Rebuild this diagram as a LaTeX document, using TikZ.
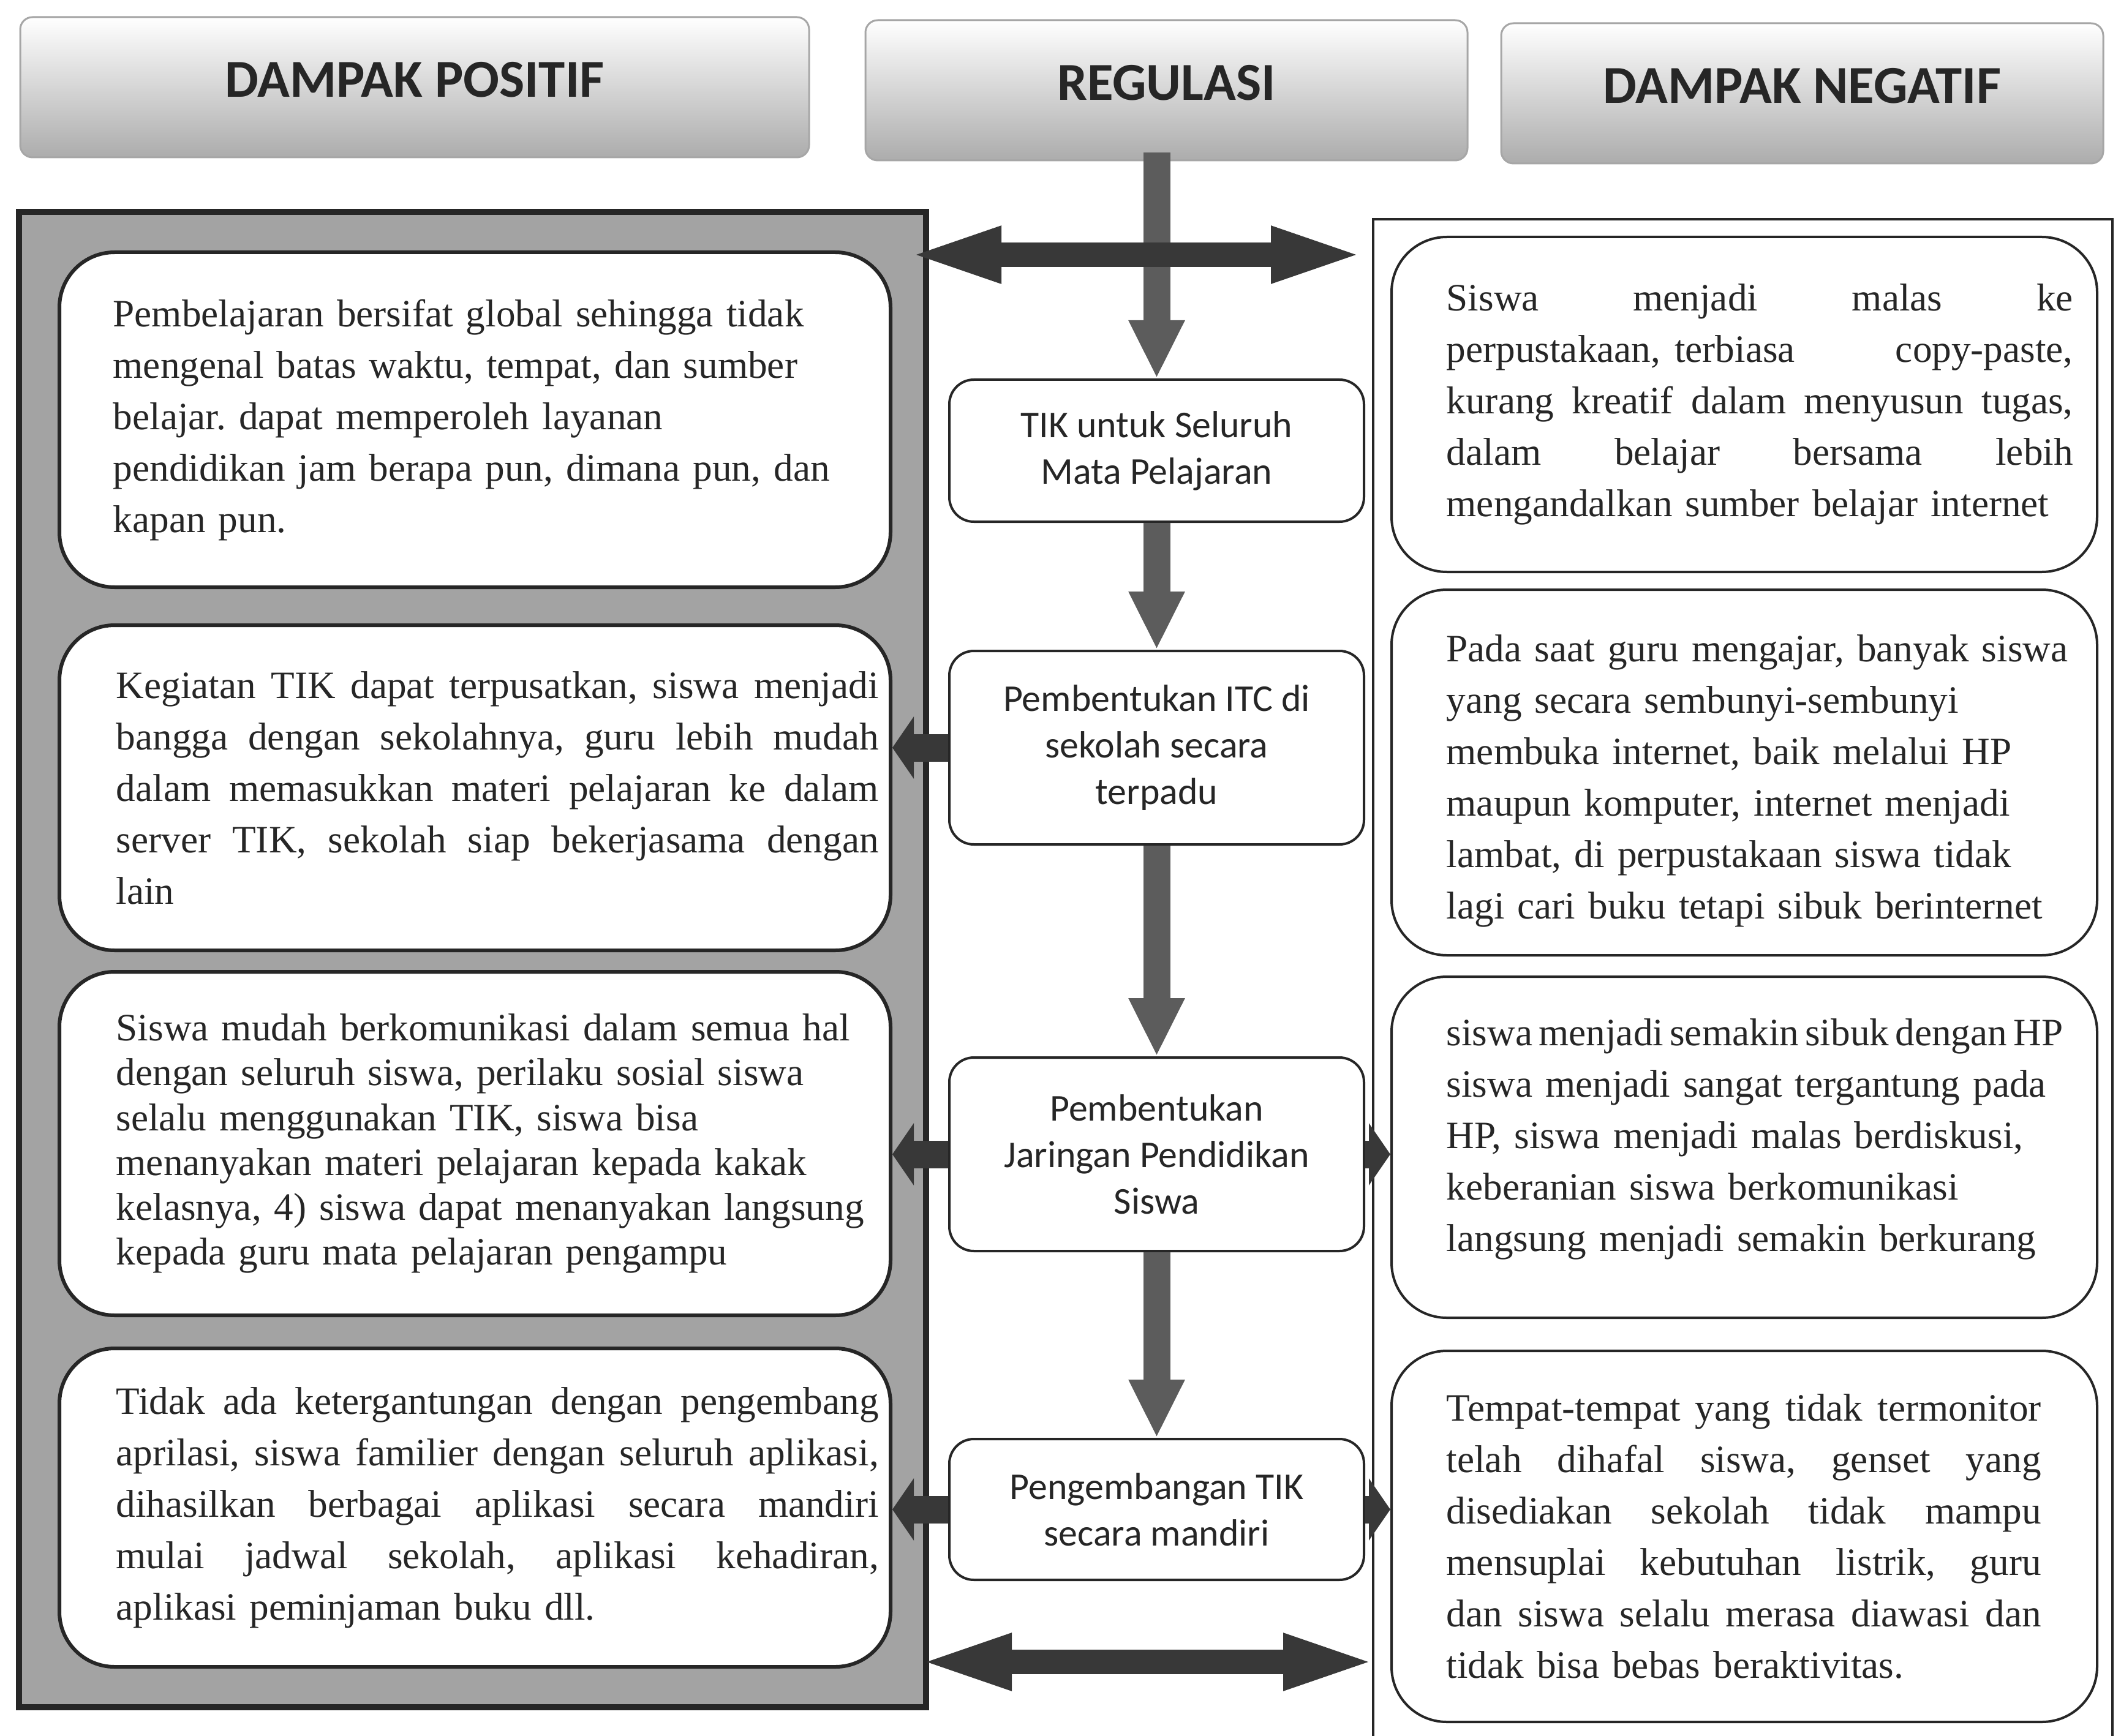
\documentclass[tikz,border=0pt]{standalone}
\usepackage{fontspec}
\setmainfont{Liberation Serif}
\newfontfamily\calibri{Carlito}
\usepackage{tikz}
\usetikzlibrary{arrows.meta, positioning, calc}

\definecolor{panelgray}{gray}{0.64}
\definecolor{flowgray}{gray}{0.36}
\definecolor{arrowdark}{gray}{0.22}
\definecolor{inkgray}{gray}{0.15}

% baris rata kiri-kanan
\newcommand{\jline}[1]{\hbox to \hsize{\frenchspacing\spaceskip=0.25em plus 1fil\relax #1}}

\tikzset{
  header/.style={rectangle, rounded corners=0.2cm, draw=gray!70, line width=0.03cm, top color=white, bottom color=gray!65, minimum width=9.83cm, minimum height=2.29cm, text depth=0.25cm, font=\calibri\fontsize{24.8}{28}\selectfont\bfseries, text=inkgray},
  posbox/.style={rectangle, rounded corners=0.9cm, draw=black!85, line width=0.06cm, fill=white, minimum width=13.57cm},
  negbox/.style={rectangle, rounded corners=0.9cm, draw=black!85, line width=0.04cm, fill=white, minimum width=11.52cm},
  regbox/.style={rectangle, rounded corners=0.4cm, draw=black!85, line width=0.04cm, fill=white, minimum width=6.77cm, font=\calibri\fontsize{17.6}{21.6}\selectfont, text=inkgray, align=center},
  bodytext/.style={anchor=west, align=left, inner sep=0pt, text=inkgray, font=\fontsize{18}{23.9}\selectfont\frenchspacing},
  flowarrow/.style={draw=flowgray, line width=0.44cm, -{Triangle[length=0.95cm, width=0.85cm]}},
  sidearrow/.style={draw=arrowdark, line width=0.45cm, -{Triangle[length=0.35cm, width=1.0cm]}},
  dblarrow/.style={draw=arrowdark, line width=0.4cm, {Triangle[length=1.6cm, width=0.8cm]}-{Triangle[length=1.6cm, width=0.8cm]}}
}

\begin{document}
\begin{tikzpicture}
  \useasboundingbox (0,0) rectangle (34.63,-28.35);

  % Judul kolom
  \node[header, minimum width=12.88cm] (posHead) at (6.77,-1.425) {DAMPAK POSITIF};
  \node[header] (regHead) at (19.045,-1.475) {REGULASI};
  \node[header] (negHead) at (29.425,-1.525) {DAMPAK NEGATIF};

  % Panel kiri dan kanan
  \draw[fill=panelgray, draw=black!85, line width=0.1cm] (0.31,-3.46) rectangle (15.12,-27.88);
  \draw[draw=black!85, line width=0.04cm] (22.42,-28.35) |- (34.49,-3.58) -- (34.49,-28.35);

  % Dampak positif
  \node[posbox, minimum height=5.47cm] (pos1) at (7.755,-6.855) {};
  \node[bodytext, text width=11.8cm] (pos1txt) at (1.84,-6.855) {Pembelajaran bersifat global sehingga tidak\\
    mengenal batas waktu, tempat, dan sumber\\
    belajar. dapat memperoleh layanan\\
    pendidikan jam berapa pun, dimana pun, dan\\
    kapan pun.};

  \node[posbox, minimum height=5.31cm] (pos2) at (7.755,-12.865) {};
  \node[bodytext, text width=12.45cm] (pos2txt) at (1.89,-12.865) {\jline{Kegiatan TIK dapat terpusatkan, siswa menjadi}
    \jline{bangga dengan sekolahnya, guru lebih mudah}
    \jline{dalam memasukkan materi pelajaran ke dalam}
    \jline{server TIK, sekolah siap bekerjasama dengan}
    lain};

  \node[posbox, minimum height=5.61cm] (pos3) at (7.755,-18.675) {};
  \node[bodytext, text width=12.45cm, font=\fontsize{18}{20.8}\selectfont\frenchspacing] (pos3txt) at (1.89,-18.675) {Siswa mudah berkomunikasi dalam semua hal\\
    dengan seluruh siswa, perilaku sosial siswa\\
    selalu menggunakan TIK, siswa bisa\\
    menanyakan materi pelajaran kepada kakak\\
    kelasnya, 4) siswa dapat menanyakan langsung\\
    kepada guru mata pelajaran pengampu};

  \node[posbox, minimum height=5.20cm] (pos4) at (7.755,-24.62) {};
  \node[bodytext, text width=12.45cm] (pos4txt) at (1.89,-24.62) {\jline{Tidak ada ketergantungan dengan pengembang}
    \jline{aprilasi, siswa familier dengan seluruh aplikasi,}
    \jline{dihasilkan berbagai aplikasi secara mandiri}
    \jline{mulai jadwal sekolah, aplikasi kehadiran,}
    aplikasi peminjaman buku dll.};

  % Dampak negatif
  \node[negbox, minimum height=5.47cm] (neg1) at (28.48,-6.605) {};
  \node[bodytext, text width=10.23cm] (neg1txt) at (23.61,-6.605) {\jline{Siswa menjadi malas ke}
    \jline{perpustakaan, terbiasa\hspace{0pt plus 20fil} copy-paste,}
    \jline{kurang kreatif dalam menyusun tugas,}
    \jline{dalam belajar bersama lebih}
    mengandalkan sumber belajar internet};

  \node[negbox, minimum height=5.97cm] (neg2) at (28.48,-12.615) {};
  \node[bodytext, text width=10.23cm] (neg2txt) at (23.61,-12.75) {Pada saat guru mengajar, banyak siswa\\
    yang secara sembunyi-sembunyi\\
    membuka internet, baik melalui HP\\
    maupun komputer, internet menjadi\\
    lambat, di perpustakaan siswa tidak\\
    lagi cari buku tetapi sibuk berinternet};

  \node[negbox, minimum height=5.57cm] (neg3) at (28.48,-18.735) {};
  \node[bodytext, text width=10.5cm] (neg3txt) at (23.61,-18.60) {\hbox{\spaceskip=0.16em\relax siswa menjadi semakin sibuk dengan HP}\\
    siswa menjadi sangat tergantung pada\\
    HP, siswa menjadi malas berdiskusi,\\
    keberanian siswa berkomunikasi\\
    langsung menjadi semakin berkurang};

  \node[negbox, minimum height=6.06cm] (neg4) at (28.48,-25.09) {};
  \node[bodytext, text width=9.71cm] (neg4txt) at (23.61,-25.09) {\jline{Tempat-tempat yang tidak termonitor}
    \jline{telah dihafal siswa, genset yang}
    \jline{disediakan sekolah tidak mampu}
    \jline{mensuplai kebutuhan listrik, guru}
    \jline{dan siswa selalu merasa diawasi dan}
    tidak bisa bebas beraktivitas.};

  % Regulasi
  \node[regbox, minimum height=2.32cm] (reg1) at (18.885,-7.36) {TIK untuk Seluruh\\Mata Pelajaran};
  \node[regbox, minimum height=3.16cm] (reg2) at (18.885,-12.21) {Pembentukan ITC di\\sekolah secara\\terpadu};
  \node[regbox, minimum height=3.16cm] (reg3) at (18.885,-18.85) {Pembentukan\\Jaringan Pendidikan\\Siswa};
  \node[regbox, minimum height=2.30cm] (reg4) at (18.885,-24.65) {Pengembangan TIK\\secara mandiri};

  % Panah alur
  \draw[flowarrow, shorten <=-0.14cm] (reg1.north |- regHead.south) -- (reg1.north);
  \draw[flowarrow] (reg1.south) -- (reg2.north);
  \draw[flowarrow] (reg2.south) -- (reg3.north);
  \draw[flowarrow] (reg3.south) -- (reg4.north);

  % Panah dua arah
  \coordinate (topL) at (14.75,-4.16);
  \coordinate (topR) at (22.35,-4.16);
  \draw[dblarrow] (topL) -- (topR);
  \coordinate (botL) at (14.92,-27.14);
  \coordinate (botR) at (22.55,-27.14);
  \draw[dblarrow] (botL) -- (botR);

  % Panah samping
  \draw[sidearrow] (reg2.west) -- (reg2.west -| pos2.east);
  \draw[sidearrow] (reg3.west) -- (reg3.west -| pos3.east);
  \draw[sidearrow] (reg3.east) -- (reg3.east -| neg3.west);
  \draw[sidearrow] (reg4.west) -- (reg4.west -| pos4.east);
  \draw[sidearrow] (reg4.east) -- (reg4.east -| neg4.west);
\end{tikzpicture}
\end{document}
